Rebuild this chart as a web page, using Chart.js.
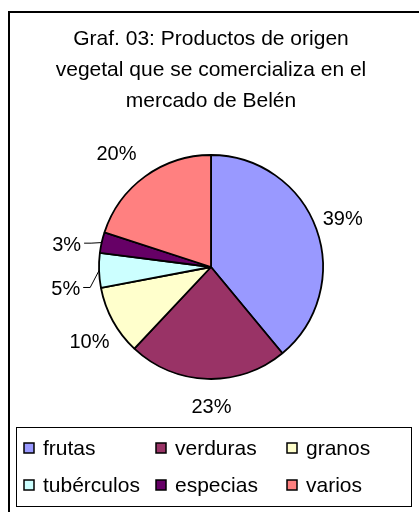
<!DOCTYPE html>
<html>
<head>
<meta charset="utf-8">
<script src="https://cdn.jsdelivr.net/npm/chart.js@4.4.1/dist/chart.umd.min.js"></script>
<style>
  html, body { margin: 0; padding: 0; background: #fff; }
  canvas { display: block; }
</style>
</head>
<body>
<canvas id="myChart" width="419" height="512"></canvas>
<script>
const categorias = ['frutas', 'verduras', 'granos', 'tubérculos', 'especias', 'varios'];
const porcentajes = [39, 23, 10, 5, 3, 20];
const colores = ['#9999FF', '#993366', '#FFFFCC', '#CCFFFF', '#660066', '#FF8080'];
const titulo = ['Graf. 03: Productos de origen', 'vegetal que se comercializa en el', 'mercado de Belén'];

const FONT = '"Liberation Sans", Arial, sans-serif';

// marco exterior + leyenda propia (3 columnas como en excel)
const marco = {
  id: 'marco',
  beforeDraw(chart) {
    const c = chart.ctx;
    c.save();
    c.fillStyle = '#fff';
    c.fillRect(0, 0, chart.width, chart.height);
    c.strokeStyle = '#000';
    c.lineWidth = 2;
    c.strokeRect(9, 12, chart.width + 20, chart.height + 20);
    c.restore();
  },
  afterDraw(chart) {
    const c = chart.ctx;
    const cols = [24, 156, 287];
    const rows = [448, 485];
    c.save();
    c.strokeStyle = '#000';
    c.lineWidth = 1;
    c.strokeRect(16.5, 427.5, 395, 79);
    c.font = '21px ' + FONT;
    c.textBaseline = 'middle';
    c.fillStyle = '#000';
    chart.data.labels.forEach((lab, i) => {
      const x = cols[i % 3], y = rows[Math.floor(i / 3)];
      c.fillStyle = chart.data.datasets[0].backgroundColor[i];
      c.fillRect(x, y - 5, 10, 10);
      c.lineWidth = 1.5;
      c.strokeRect(x, y - 5, 10, 10);
      c.fillStyle = '#000';
      c.fillText(lab, x + 19, y + 1);
    });
    c.restore();
  }
};

// etiquetas de porcentaje fuera del pastel
const etiquetas = {
  id: 'etiquetas',
  afterDatasetsDraw(chart, args, opts) {
    const c = chart.ctx;
    const meta = chart.getDatasetMeta(0);
    c.save();
    c.font = '20px ' + FONT;
    c.textAlign = 'center';
    c.textBaseline = 'middle';
    c.fillStyle = '#000';
    meta.data.forEach((arc, i) => {
      const mid = (arc.startAngle + arc.endAngle) / 2 + (opts.shift[i] || 0) * Math.PI / 180;
      const d = arc.outerRadius + opts.dist[i];
      const x = arc.x + Math.cos(mid) * d;
      const y = arc.y + Math.sin(mid) * d;
      const txt = porcentajes[i] + '%';
      c.fillText(txt, x, y);
      if (porcentajes[i] < 6) {
        const w = c.measureText(txt).width;
        const realMid = (arc.startAngle + arc.endAngle) / 2;
        const ex = arc.x + Math.cos(realMid) * arc.outerRadius;
        const ey = arc.y + Math.sin(realMid) * arc.outerRadius;
        c.beginPath();
        c.lineWidth = 1;
        c.strokeStyle = '#000';
        c.moveTo(x + w / 2 + 3, y - 2);
        c.lineTo(x + w / 2 + 10, y - 2);
        c.lineTo(ex, ey);
        c.stroke();
      }
    });
    c.restore();
  }
};

new Chart(document.getElementById('myChart'), {
  type: 'pie',
  data: {
    labels: categorias,
    datasets: [{
      data: porcentajes,
      backgroundColor: colores,
      borderColor: '#000',
      borderWidth: 1.8
    }]
  },
  options: {
    responsive: false,
    animation: false,
    events: [],
    radius: 112,
    layout: { padding: { top: 12, bottom: 128, left: 18, right: 15 } },
    plugins: {
      legend: { display: false },
      tooltip: { enabled: false },
      title: {
        display: true,
        text: titulo,
        color: '#000',
        font: { family: FONT, size: 21, weight: 'normal', lineHeight: 31 / 21 },
        padding: { top: 12, bottom: 33 }
      },
      etiquetas: {
        shift: [0, -2, -3, -7, -4, -4],
        dist: [28, 28, 31, 35, 34, 35]
      }
    }
  },
  plugins: [marco, etiquetas]
});
</script>
</body>
</html>
